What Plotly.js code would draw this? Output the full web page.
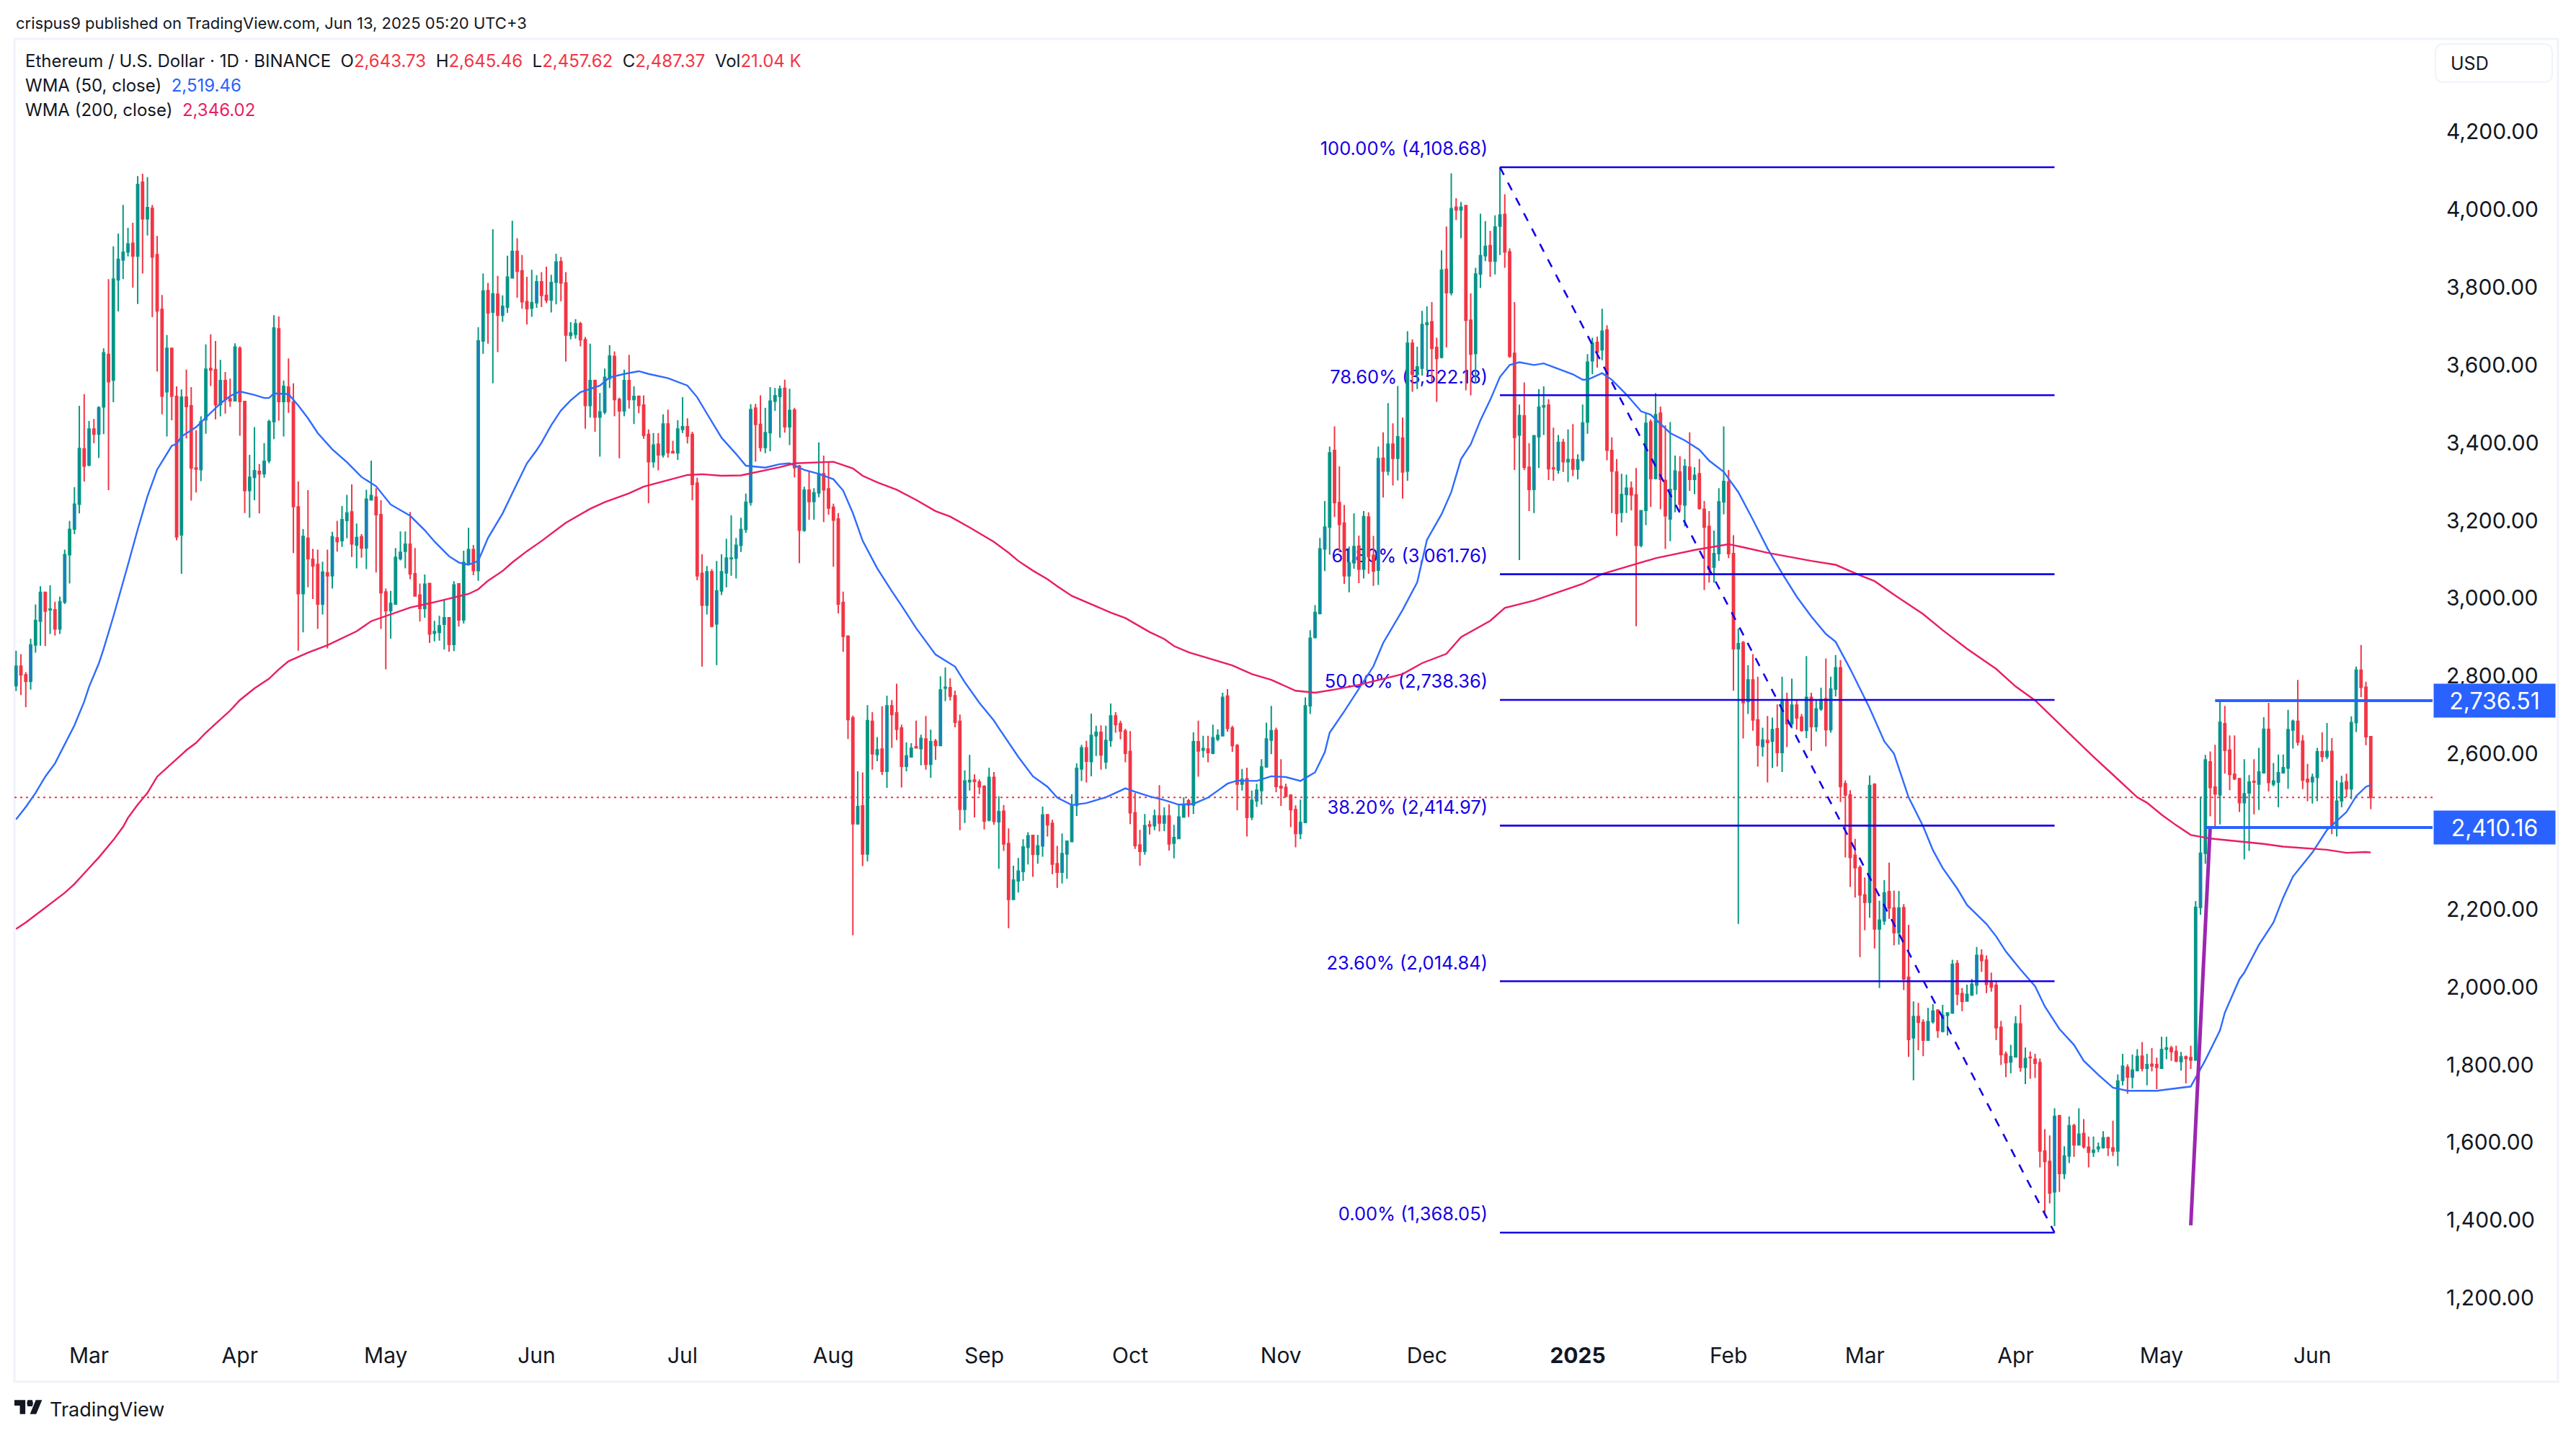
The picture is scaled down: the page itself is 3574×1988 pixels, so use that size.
<!DOCTYPE html>
<html><head><meta charset="utf-8">
<script src="https://cdn.plot.ly/plotly-3.0.1.min.js"></script>
<style>html,body{margin:0;padding:0;background:#fff}#c{width:3574px;height:1988px}</style>
</head><body><div id="c"></div>
<script>
const firstDay = Date.UTC(2024, 1, 15);
const opens = [
2775,2825,2803,2786,2880,2941,3015,2970,2970,2921,
2990,3112,3178,3242,3384,3343,3435,3422,3492,3627,
3561,3819,3870,3891,3913,3880,4070,3976,4003,3884,
3743,3531,3643,3519,3163,3517,3495,3335,3331,3459,
3591,3588,3498,3560,3513,3508,3643,3506,3277,3311,
3326,3320,3354,3454,3693,3506,3543,3504,3235,3012,
3154,3100,3087,2985,3065,3058,3155,3148,3200,3222,
3137,3158,3129,3253,3260,3215,3016,2968,2985,3102,
3121,3139,3063,3008,2974,3038,2910,2912,2933,2950,
2881,3037,2944,3089,3125,3071,3662,3791,3736,3782,
3728,3749,3824,3892,3842,3763,3746,3760,3814,3779,
3767,3813,3866,3811,3676,3679,3706,3665,3496,3560,
3466,3479,3565,3622,3511,3482,3560,3511,3519,3497,
3421,3351,3396,3369,3448,3377,3374,3434,3441,3421,
3296,3064,2982,3068,2934,3019,3065,3102,3103,3136,
3177,3247,3489,3447,3388,3426,3507,3519,3540,3441,
3484,3340,3175,3278,3249,3271,3320,3281,3234,3204,
2989,2902,2692,2420,2466,2342,2683,2598,2612,2555,
2723,2705,2666,2568,2592,2618,2613,2638,2573,2632,
2621,2769,2770,2749,2683,2457,2528,2532,2527,2516,
2429,2539,2425,2452,2369,2225,2273,2297,2359,2390,
2341,2363,2443,2421,2317,2295,2342,2374,2467,2561,
2615,2580,2646,2655,2579,2634,2697,2677,2658,2606,
2448,2365,2349,2417,2415,2440,2422,2440,2370,2382,
2437,2479,2468,2631,2609,2612,2601,2638,2646,2748,
2666,2621,2522,2536,2437,2479,2505,2566,2635,2660,
2516,2513,2493,2456,2395,2423,2723,2899,2961,3127,
3183,3380,3246,3193,3058,3091,3134,3075,3209,3110,
3072,3360,3327,3396,3360,3412,3327,3656,3576,3592,
3704,3711,3645,3620,3846,3786,4006,3999,4010,3715,
3630,3834,3881,3907,3867,3957,3987,3891,3630,3420,
3469,3337,3280,3415,3492,3497,3335,3330,3401,3351,
3357,3332,3356,3453,3611,3658,3639,3690,3380,3325,
3221,3267,3283,3266,3136,3226,3453,3308,3476,3303,
3204,3280,3325,3240,3337,3306,3320,3229,3185,3080,
3115,3248,3299,3115,2870,2886,2734,2790,2687,2619,
2634,2632,2664,2603,2739,2677,2725,2694,2660,2745,
2670,2715,2741,2662,2766,2821,2523,2494,2339,2307,
2237,2218,2521,2149,2170,2245,2203,2140,2204,2025,
1869,1924,1909,1863,1911,1940,1886,1927,1933,2060,
1983,1964,1979,2005,2081,2069,2011,2004,1896,1827,
1807,1820,1905,1793,1819,1814,1805,1578,1551,1473,
1669,1520,1565,1643,1594,1623,1588,1575,1584,1587,
1612,1586,1578,1760,1793,1768,1785,1822,1791,1801,
1800,1791,1840,1843,1834,1808,1820,1818,1812,2205,
2344,2579,2514,2494,2677,2609,2547,2536,2474,2499,
2529,2522,2551,2663,2522,2527,2551,2563,2661,2683,
2632,2534,2528,2539,2605,2593,2606,2412,2479,2528,
2510,2680,2815,2771,2643.73];
const highs = [
2865,2856,2810,2896,2984,3031,3016,3033,2991,3004,
3125,3199,3286,3495,3525,3456,3461,3494,3643,3821,
3905,3938,4012,3953,3966,4086,4092,4083,4012,3932,
3780,3677,3643,3545,3537,3588,3543,3432,3468,3653,
3679,3662,3613,3582,3565,3656,3648,3508,3369,3440,
3345,3399,3459,3728,3725,3560,3617,3553,3300,3178,
3278,3127,3125,3094,3125,3171,3199,3237,3266,3293,
3192,3165,3279,3354,3283,3252,3025,3019,3129,3172,
3172,3222,3129,3038,3061,3038,2942,2955,2997,2950,
3044,3037,3122,3181,3137,3697,3835,3811,3949,3829,
3779,3881,3971,3926,3883,3827,3845,3831,3839,3853,
3832,3886,3878,3839,3710,3718,3711,3672,3655,3562,
3528,3591,3651,3635,3516,3588,3626,3545,3522,3522,
3434,3425,3425,3473,3485,3405,3458,3517,3463,3428,
3310,3113,3083,3075,3096,3113,3153,3213,3155,3207,
3269,3499,3500,3522,3490,3543,3541,3547,3562,3539,
3490,3343,3287,3328,3283,3401,3367,3350,3243,3219,
3017,2905,2698,2555,2552,2725,2707,2643,2722,2749,
2738,2780,2675,2629,2627,2685,2649,2697,2662,2638,
2799,2822,2794,2762,2701,2557,2597,2547,2534,2519,
2564,2553,2491,2468,2408,2312,2332,2380,2398,2390,
2391,2464,2443,2430,2363,2395,2377,2496,2575,2623,
2633,2703,2672,2673,2672,2729,2707,2685,2664,2658,
2499,2404,2445,2428,2456,2519,2462,2470,2417,2470,
2488,2484,2655,2685,2646,2646,2675,2663,2757,2766,
2672,2625,2561,2564,2505,2523,2586,2680,2723,2667,
2586,2523,2496,2467,2482,2745,2918,2982,3155,3250,
3390,3442,3339,3240,3133,3218,3161,3224,3221,3160,
3390,3427,3502,3450,3546,3465,3687,3666,3647,3739,
3751,3762,3670,3895,3956,4093,4029,4019,4010,3784,
3850,3989,3970,3945,3985,4108.68,4039,3900,3762,3498,
3555,3399,3420,3538,3545,3512,3439,3420,3410,3434,
3448,3370,3498,3628,3670,3673,3745,3702,3414,3358,
3320,3318,3300,3335,3225,3477,3460,3528,3493,3445,
3453,3367,3365,3358,3427,3337,3358,3250,3224,3174,
3283,3442,3330,3162,2922,2890,2828,2856,2798,2667,
2697,2693,2727,2798,2757,2793,2737,2702,2851,2757,
2739,2770,2845,2798,2854,2841,2531,2506,2381,2313,
2282,2544,2524,2222,2275,2320,2248,2247,2213,2160,
1963,1959,1917,1946,1956,1943,1954,1934,2070,2069,
1997,2006,2021,2103,2097,2081,2037,2017,1913,1834,
1851,1925,1954,1844,1834,1828,1816,1634,1618,1688,
1671,1590,1667,1648,1688,1660,1615,1615,1600,1629,
1615,1656,1775,1828,1801,1826,1840,1858,1828,1843,
1818,1872,1872,1849,1849,1833,1824,1849,2221,2489,
2597,2606,2623,2738,2723,2647,2647,2538,2586,2545,
2586,2615,2694,2731,2576,2598,2598,2713,2688,2790,
2648,2574,2549,2615,2655,2679,2640,2531,2543,2549,
2696,2824,2880,2785,2645.46];
const lows = [
2761,2751,2720,2765,2860,2878,2877,2908,2904,2908,
2985,3038,3165,3218,3300,3339,3399,3361,3422,3278,
3504,3738,3821,3879,3799,3757,3835,3933,3723,3583,
3473,3416,3458,3149,3063,3411,3251,3272,3301,3423,
3546,3460,3468,3475,3492,3506,3418,3219,3207,3252,
3218,3310,3347,3409,3457,3416,3477,3116,2865,2912,
3028,2998,2921,2958,2871,3025,3120,3132,3154,3106,
3077,3104,3075,3252,3066,2921,2817,2896,2985,3097,
3077,3049,3006,2940,2950,2885,2889,2891,2868,2862,
2864,2927,2935,3089,3059,3045,3629,3655,3553,3633,
3711,3734,3824,3773,3745,3704,3724,3747,3749,3759,
3735,3756,3764,3609,3666,3668,3648,3436,3465,3428,
3364,3473,3541,3468,3360,3468,3488,3448,3476,3410,
3244,3336,3329,3362,3362,3373,3356,3425,3398,3252,
3046,2824,2958,2925,2828,3008,3028,3058,3051,3119,
3168,3238,3351,3377,3373,3378,3482,3413,3426,3394,
3311,3090,3171,3202,3202,3260,3196,3215,3081,2961,
2862,2638,2133,2417,2311,2323,2559,2581,2545,2512,
2615,2635,2513,2555,2591,2613,2570,2559,2538,2584,
2621,2735,2737,2668,2403,2422,2505,2436,2496,2405,
2426,2417,2304,2350,2151,2225,2243,2273,2315,2283,
2317,2335,2387,2290,2255,2266,2278,2374,2440,2530,
2526,2542,2594,2559,2561,2618,2654,2637,2578,2419,
2355,2312,2340,2392,2403,2400,2401,2351,2331,2382,
2436,2437,2445,2541,2590,2578,2599,2632,2646,2657,
2605,2454,2505,2387,2429,2463,2469,2564,2599,2501,
2466,2487,2411,2359,2380,2422,2702,2898,2958,3070,
3112,3209,3119,3037,3015,3076,3039,3051,3063,3032,
3034,3259,3316,3290,3303,3256,3302,3531,3538,3573,
3585,3557,3505,3617,3645,3779,3973,3926,3535,3522,
3552,3798,3867,3827,3833,3883,3850,3618,3330,3098,
3330,3224,3219,3335,3420,3304,3302,3320,3325,3299,
3314,3306,3351,3423,3576,3593,3612,3355,3219,3160,
3195,3219,3226,2928,3131,3188,3235,3306,3229,3127,
3147,3221,3224,3185,3276,3268,3228,3021,3040,3040,
3096,3216,3103,2762,2162,2639,2702,2659,2567,2593,
2526,2563,2567,2553,2617,2665,2662,2657,2640,2607,
2657,2710,2619,2654,2747,2476,2333,2257,2230,2077,
2146,2178,2099,1997,2160,2175,2107,2109,1992,1820,
1760,1837,1822,1862,1906,1869,1883,1875,1931,1953,
1938,1963,1978,1981,2039,1984,1988,1863,1799,1768,
1778,1820,1782,1750,1764,1766,1536,1412,1443,1385,
1473,1506,1547,1563,1594,1584,1536,1563,1575,1584,
1565,1565,1539,1747,1725,1739,1783,1783,1747,1783,
1737,1791,1814,1810,1806,1785,1752,1789,1810,2186,
2317,2439,2408,2418,2549,2506,2532,2450,2328,2350,
2444,2455,2549,2503,2516,2462,2549,2510,2613,2621,
2509,2478,2472,2478,2579,2586,2393,2387,2462,2488,
2483,2656,2746,2622,2457.62];
const closes = [
2825,2803,2786,2880,2943,3015,2967,2972,2921,2991,
3112,3177,3242,3385,3340,3435,3422,3490,3631,3557,
3821,3872,3890,3911,3880,4064,3976,4005,3878,3739,
3520,3643,3520,3158,3517,3493,3335,3332,3454,3589,
3587,3498,3560,3511,3508,3646,3506,3277,3311,3328,
3320,3352,3454,3695,3506,3545,3506,3236,3012,3159,
3102,3083,2985,3067,3058,3158,3146,3202,3219,3140,
3156,3129,3255,3264,3215,3014,2968,2987,3105,3118,
3139,3063,3006,2974,3036,2908,2914,2929,2950,2881,
3034,2944,3092,3125,3071,3662,3790,3734,3783,3728,
3751,3826,3892,3841,3763,3745,3760,3814,3779,3767,
3812,3865,3811,3677,3682,3706,3665,3496,3560,3466,
3479,3568,3623,3511,3482,3560,3511,3519,3496,3419,
3351,3394,3369,3448,3375,3374,3435,3441,3417,3293,
3058,2982,3068,2928,3019,3068,3103,3103,3136,3177,
3247,3485,3447,3388,3426,3507,3521,3538,3441,3483,
3336,3175,3278,3249,3271,3320,3279,3232,3201,2985,
2902,2688,2420,2464,2342,2685,2600,2610,2555,2723,
2701,2663,2568,2594,2614,2615,2639,2573,2631,2621,
2764,2771,2748,2681,2457,2530,2531,2529,2515,2427,
2539,2426,2451,2368,2225,2275,2298,2360,2389,2341,
2363,2442,2417,2316,2295,2343,2375,2468,2562,2615,
2581,2647,2655,2597,2634,2697,2675,2658,2601,2448,
2364,2349,2415,2414,2440,2422,2440,2368,2384,2437,
2469,2468,2631,2607,2613,2603,2641,2647,2745,2665,
2621,2522,2534,2436,2480,2506,2566,2638,2659,2516,
2512,2491,2456,2395,2423,2723,2897,2963,3127,3183,
3374,3246,3190,3058,3091,3133,3075,3210,3108,3070,
3359,3327,3396,3360,3415,3325,3656,3576,3595,3704,
3708,3643,3617,3844,3786,4002,3999,4006,3715,3628,
3834,3881,3905,3867,3955,3986,3891,3623,3414,3470,
3337,3280,3418,3491,3495,3333,3333,3401,3351,3357,
3332,3356,3451,3607,3656,3633,3687,3381,3327,3218,
3267,3283,3266,3136,3225,3450,3308,3472,3306,3212,
3280,3327,3242,3339,3306,3316,3231,3183,3075,3115,
3248,3300,3115,2870,2883,2732,2790,2687,2622,2635,
2629,2662,2603,2739,2677,2725,2692,2660,2745,2670,
2715,2739,2662,2766,2821,2516,2494,2333,2307,2237,
2218,2518,2149,2172,2242,2203,2140,2203,2021,1865,
1924,1909,1863,1911,1938,1888,1927,1933,2058,1982,
1963,1981,2007,2081,2068,2007,2000,1895,1826,1805,
1821,1905,1793,1816,1818,1804,1578,1551,1470,1667,
1520,1565,1643,1594,1621,1589,1575,1580,1588,1612,
1587,1578,1758,1796,1768,1786,1821,1791,1800,1797,
1793,1839,1843,1834,1810,1820,1816,1812,2205,2344,
2584,2513,2497,2681,2609,2547,2536,2474,2497,2527,
2527,2553,2663,2526,2530,2551,2564,2662,2683,2630,
2532,2528,2539,2605,2593,2606,2412,2478,2524,2510,
2680,2815,2771,2644,2487.37];

const wma50Bars = [0,2,4,6,8,10,12,14,15,17,18,20,22,23,25,26,27,29,32,33,34,37,40,42,44,46,49,51,52,53,56,58,60,62,65,68,71,74,77,81,84,86,89,91,93,95,97,100,102,105,107,108,110,112,114,116,120,122,125,128,130,134,138,140,142,145,148,150,154,157,159,162,165,168,170,172,174,177,180,182,185,187,189,193,195,198,201,202,206,209,212,214,217,220,224,227,228,230,233,236,239,242,245,247,249,251,255,258,261,264,267,269,270,273,276,279,281,285,288,290,293,295,297,299,301,303,305,307,309,312,314,317,320,322,323,326,328,331,334,336,338,340,343,346,348,351,354,357,360,363,366,369,372,374,377,380,381,384,386,389,392,394,396,399,401,405,407,409,412,415,417,420,423,425,428,431,434,440,443,447,450,453,454,457,458,461,464,466,468,472,475,479,481,483,484];
const wma50Values = [2431,2463,2499,2541,2575,2624,2673,2734,2772,2832,2870,2953,3040,3086,3177,3222,3262,3331,3392,3397,3416,3440,3477,3501,3520,3532,3523,3515,3515,3527,3525,3496,3463,3425,3383,3350,3312,3288,3241,3212,3175,3146,3108,3092,3086,3096,3155,3218,3270,3347,3381,3400,3445,3483,3509,3530,3547,3568,3577,3584,3577,3566,3547,3517,3475,3413,3371,3341,3336,3345,3347,3330,3320,3306,3277,3219,3148,3077,3018,2981,2923,2889,2855,2824,2784,2731,2685,2666,2592,2542,2515,2487,2468,2473,2488,2505,2511,2502,2490,2481,2469,2471,2487,2505,2523,2531,2530,2542,2540,2530,2552,2604,2654,2709,2768,2825,2885,2970,3041,3150,3216,3273,3358,3396,3458,3510,3569,3600,3607,3600,3604,3590,3576,3562,3562,3579,3562,3524,3481,3472,3448,3425,3406,3382,3354,3325,3273,3202,3128,3064,3004,2953,2908,2888,2818,2742,2717,2632,2600,2488,2413,2352,2306,2253,2211,2162,2130,2091,2045,2002,1950,1892,1851,1810,1774,1741,1733,1733,1738,1744,1812,1888,1934,2020,2037,2108,2166,2230,2284,2346,2404,2450,2491,2515,2519.46];
const wma200Bars = [0,2,4,6,10,12,14,15,17,20,22,23,25,27,29,32,35,37,39,41,44,46,49,52,54,56,60,64,70,73,81,86,93,95,97,100,102,105,108,113,116,118,121,126,129,134,138,141,145,149,153,157,160,163,168,172,174,177,181,185,189,192,196,201,204,206,209,212,214,217,225,228,233,236,238,241,246,250,254,258,263,267,271,276,285,289,294,297,303,306,312,319,322,326,332,337,345,352,355,360,369,374,379,382,386,392,396,401,407,411,415,420,427,431,436,438,441,444,447,451,458,462,466,472,475,479,483,484];
const wma200Values = [2149,2166,2185,2204,2242,2265,2291,2306,2333,2378,2412,2435,2469,2499,2541,2575,2609,2628,2654,2677,2711,2738,2768,2793,2817,2838,2860,2879,2915,2941,2976,2990,3011,3023,3045,3070,3092,3121,3147,3194,3215,3230,3247,3270,3287,3304,3317,3319,3315,3316,3326,3337,3347,3349,3351,3334,3315,3298,3279,3253,3224,3210,3182,3145,3117,3096,3071,3049,3031,3006,2963,2949,2913,2895,2877,2861,2842,2827,2805,2790,2762,2757,2765,2777,2805,2833,2857,2900,2942,2975,2994,3024,3037,3062,3084,3103,3124,3139,3131,3117,3096,3086,3059,3044,3009,2959,2918,2870,2818,2773,2737,2677,2592,2546,2488,2474,2443,2416,2391,2382,2373,2368,2361,2356,2353,2345,2347,2346.02];

const fibLevels = [4108.68, 3522.18, 3061.76, 2738.36, 2414.97, 2014.84, 1368.05];
const fibNames = ['100.00%', '78.60%', '61.80%', '50.00%', '38.20%', '23.60%', '0.00%'];
const fibStartBar = 305, fibEndBar = 419;
const levelPrices = [2736.51, 2410.16];
const levelStartBars = [452, 450];
const purpleBars = [447, 451];
const purplePrices = [1387, 2414];
const lastPrice = 2487.37;
const priceTicks = [1200,1400,1600,1800,2000,2200,2600,2800,3000,3200,3400,3600,3800,4000,4200];
const monthTickDays = ['2024-03-01','2024-04-01','2024-05-01','2024-06-01','2024-07-01','2024-08-01','2024-09-01','2024-10-01','2024-11-01','2024-12-01','2025-01-01','2025-02-01','2025-03-01','2025-04-01','2025-05-01','2025-06-01'];
const monthTickText = ['Mar','Apr','May','Jun','Jul','Aug','Sep','Oct','Nov','Dec','<b>2025</b>','Feb','Mar','Apr','May','Jun'];

const day = b => new Date(firstDay + b * 864e5).toISOString().slice(0, 19).replace('T', ' ');
const dates = opens.map((_, i) => day(i));
const money = v => v.toLocaleString('en-US', {minimumFractionDigits: 2});

// page geometry (pixels)
const L = 20, R = 3375, T = 54, B = 1855, W = 3574, H = 1988;
const PX = p => (p - L) / (R - L), PY = p => 1 - (p - T) / (B - T);
const font = 'Inter, "Liberation Sans", sans-serif';
const BLUE = '#2962FF', RED = '#F23645', GREEN = '#089981', PINK = '#E91E63', FIB = '#1500E6', INK = '#131722';
const pxPerBar = 6.749, pxPerUsd = 0.5393;

const lineTrace = (x, y, color, width, dash) => ({type: 'scatter', mode: 'lines', xaxis: 'x2', yaxis: 'y2', x, y, hoverinfo: 'skip', showlegend: false, line: {color, width, dash: dash || 'solid'}});
const traces = [
  // fib labels sit on the base axes, so the candles on the overlay axes pass in front of them
  {type: 'scatter', mode: 'text', x: fibLevels.map(() => day(fibStartBar - 17 / pxPerBar)), y: fibLevels.map(v => v + 23 / pxPerUsd),
   text: fibLevels.map((v, i) => `${fibNames[i]} (${money(v)})`), textposition: 'middle left', textfont: {family: font, size: 25.5, color: FIB}, hoverinfo: 'skip', showlegend: false},
  {type: 'candlestick', xaxis: 'x2', yaxis: 'y2', x: dates, open: opens, high: highs, low: lows, close: closes, whiskerwidth: 0, hoverinfo: 'skip', showlegend: false,
   increasing: {line: {color: GREEN, width: 2}, fillcolor: BLUE},
   decreasing: {line: {color: RED, width: 2}, fillcolor: RED}},
  lineTrace(wma50Bars.map(day), wma50Values, '#2F6BFF', 2.4),
  lineTrace(wma200Bars.map(day), wma200Values, PINK, 2.4)];
fibLevels.forEach(v => traces.push(lineTrace([day(fibStartBar), day(fibEndBar)], [v, v], FIB, 2.6)));
traces.push(lineTrace([day(fibStartBar), day(fibEndBar)], [fibLevels[0], fibLevels[6]], FIB, 2.6, '12px,12px'));
traces.push(lineTrace(purpleBars.map(day), purplePrices, '#9C27B0', 5));
levelPrices.forEach((v, i) => traces.push(lineTrace([day(levelStartBars[i]), day(496.7)], [v, v], BLUE, 4)));

const note = (text, x, y, size, color) => ({text, xref: 'paper', yref: 'paper', x: PX(x), y: PY(y), xanchor: 'left', yanchor: 'middle', showarrow: false, align: 'left', font: {family: font, size, color}});
const red = s => `<span style="color:${RED}">${s}</span>`;
const annotations = [
  note('crispus9 published on TradingView.com, Jun 13, 2025 05:20 UTC+3', 20, 32, 22, INK),
  note(`Ethereum / U.S. Dollar · 1D · BINANCE\u00A0\u00A0O${red('2,643.73')}\u00A0\u00A0H${red('2,645.46')}\u00A0\u00A0L${red('2,457.62')}\u00A0\u00A0C${red('2,487.37')}\u00A0\u00A0Vol${red('21.04\u00A0K')}`, 33, 85, 24, INK),
  note(`WMA (50, close)\u00A0\u00A0<span style="color:${BLUE}">2,519.46</span>`, 33, 119, 24, INK),
  note(`WMA (200, close)\u00A0\u00A0<span style="color:${PINK}">2,346.02</span>`, 33, 153, 24, INK),
  note('USD', 3398, 88, 25, INK),
  note('TradingView', 67, 1955, 27, INK)
];
levelPrices.forEach(v => annotations.push({
  text: money(v), xref: 'paper', yref: 'y', x: 1, y: v, xanchor: 'left', yanchor: 'middle', xshift: 1, showarrow: false, align: 'center', width: 168, height: 46, bgcolor: BLUE, borderpad: 0,
  font: {family: font, size: 32, color: '#FFFFFF'}
}));

const rectPath = (x0, y0, x1, y1, r) => `M${PX(x0 + r)},${PY(y0)}L${PX(x1 - r)},${PY(y0)}Q${PX(x1)},${PY(y0)} ${PX(x1)},${PY(y0 + r)}L${PX(x1)},${PY(y1 - r)}Q${PX(x1)},${PY(y1)} ${PX(x1 - r)},${PY(y1)}L${PX(x0 + r)},${PY(y1)}Q${PX(x0)},${PY(y1)} ${PX(x0)},${PY(y1 - r)}L${PX(x0)},${PY(y0 + r)}Q${PX(x0)},${PY(y0)} ${PX(x0 + r)},${PY(y0)}Z`;
const logoPt = (u, v) => `${PX(20 + u * 1.08)},${PY(1938 + v * 1.08)}`;
const logoPath = 'M' + [[0,4],[14,4],[14,22],[7,22],[7,11],[0,11]].map(p => logoPt(p[0], p[1])).join('L') + 'Z'
  + 'M' + [[27.5,4],[35.5,4],[28,22],[20,22]].map(p => logoPt(p[0], p[1])).join('L') + 'Z'
  + 'M' + [[17,4],[23,4],[24,8],[23,12],[17,12],[16,8]].map(p => logoPt(p[0], p[1])).join('L') + 'Z';
const shapes = [
  {type: 'path', xref: 'paper', yref: 'paper', path: rectPath(20, 54, 3549, 1917, 0), line: {color: '#F0F3FA', width: 3}, layer: 'below'},
  {type: 'path', xref: 'paper', yref: 'paper', path: rectPath(3379, 61, 3541, 114, 12), line: {color: '#F0F3FA', width: 2}, layer: 'below'},
  {type: 'path', xref: 'paper', yref: 'paper', path: logoPath, fillcolor: INK, line: {width: 0}},
  {type: 'line', xref: 'paper', yref: 'y', x0: 0, x1: 1, y0: lastPrice, y1: lastPrice, line: {color: RED, width: 2, dash: '3px,5px'}, layer: 'below'}
];

const toP = y => 4108.68 - (y - 232) / pxPerUsd;
const xRange = [day(-0.34), day(496.7)], yRange = [toP(B), toP(T)];
Plotly.newPlot('c', traces, {
  width: W, height: H, paper_bgcolor: '#fff', plot_bgcolor: '#fff', showlegend: false, boxgap: 0.4,
  margin: {l: L, r: W - R, t: T, b: H - B, pad: 0},
  font: {family: font, size: 30, color: INK},
  xaxis: {type: 'date', range: xRange, rangeslider: {visible: false}, showgrid: false, zeroline: false, showline: false, ticks: '', tickmode: 'array', tickvals: monthTickDays, ticktext: monthTickText, tickangle: 0, ticklabelstandoff: 5, tickfont: {family: font, size: 30, color: INK}},
  yaxis: {side: 'right', range: yRange, showgrid: false, zeroline: false, showline: false, ticks: '', tickmode: 'array', tickvals: priceTicks, ticktext: priceTicks.map(money), ticklabelstandoff: 18, tickfont: {family: font, size: 30, color: INK}},
  xaxis2: {type: 'date', overlaying: 'x', range: xRange, visible: false, rangeslider: {visible: false}},
  yaxis2: {overlaying: 'y', side: 'right', range: yRange, visible: false},
  annotations, shapes
}, {staticPlot: true, displayModeBar: false});
</script></body></html>
